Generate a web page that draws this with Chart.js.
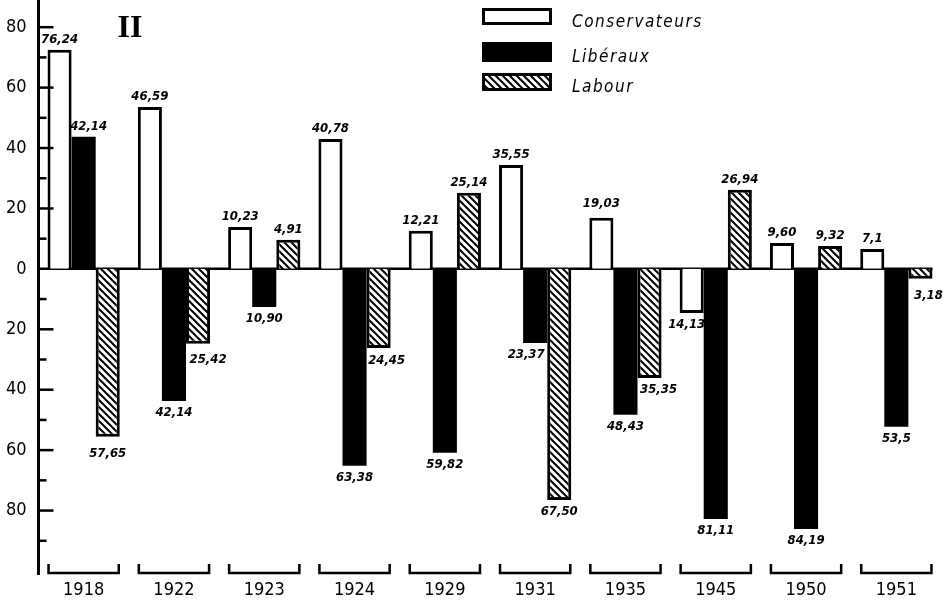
<!DOCTYPE html>
<html><head><meta charset="utf-8">
<script src="https://cdn.jsdelivr.net/npm/chart.js@4/dist/chart.umd.min.js"></script>
<style>html,body{margin:0;padding:0;background:#fff}#wrap{width:948px;height:602px;position:relative}</style>
</head><body><div id="wrap"><canvas id="c" width="948" height="602"></canvas></div>
<script>
const years = ['1918','1922','1923','1924','1929','1931','1935','1945','1950','1951'];
const seriesNames = ['Conservateurs','Libéraux','Labour'];
const conservateurs = [72.5, 53.6, 13.9, 43.0, 12.6, 34.4, 16.9, -14.6, 8.6, 6.6];
const liberaux = [43.7, -43.7, -12.6, -65.2, -60.9, -24.5, -48.3, -82.8, -86.1, -52.3];
const labour = [-55.6, -24.8, 9.6, -26.2, 25.2, -76.5, -36.1, 26.2, 7.6, -3.3];
const labelsCons = ['76,24','46,59','10,23','40,78','12,21','35,55','19,03','14,13','9,60','7,1'];
const labelsLib = ['42,14','42,14','10,90','63,38','59,82','23,37','48,43','81,11','84,19','53,5'];
const labelsLab = ['57,65','25,42','4,91','24,45','25,14','67,50','35,35','26,94','9,32','3,18'];
const yTickValues = [-80,-60,-40,-20,0,20,40,60,80];
const yMinorValues = [-90,-70,-50,-30,-10,10,30,50,70];
const panelTitle = 'II';

// hatch pattern
function makeHatch(){
  const s = 7, c = document.createElement('canvas'); c.width = s; c.height = s;
  const g = c.getContext('2d');
  g.fillStyle = '#fff'; g.fillRect(0,0,s,s);
  g.strokeStyle = '#000'; g.lineWidth = 2;
  g.beginPath();
  g.moveTo(-1,-1); g.lineTo(s+1,s+1);
  g.moveTo(-1,s-1); g.lineTo(1,s+1);
  g.moveTo(s-1,-1); g.lineTo(s+1,1);
  g.stroke();
  return document.getElementById('c').getContext('2d').createPattern(c,'repeat');
}
const hatch = makeHatch();
const allLabels = [labelsCons, labelsLib, labelsLab];
const labelNudges = {'1-0':[5,0],'2-0':[0,5],'2-1':[10,4],'2-3':[8,1],'1-5':[-9,0],'2-6':[9,0],'2-9':[8,5],'0-6':[0,-4],'0-7':[-5,0]};

const decor = {
  id:'decor',
  beforeDatasetsDraw(chart){
    const ctx = chart.ctx, ca = chart.chartArea, y = chart.scales.y;
    const py = y.getPixelForValue(0);
    ctx.save();
    ctx.strokeStyle = '#000'; ctx.lineWidth = 2.5;
    ctx.beginPath(); ctx.moveTo(ca.left, py); ctx.lineTo(ca.right - 9, py); ctx.stroke();
    ctx.restore();
  },
  afterDatasetsDraw(chart){
    const ctx = chart.ctx, ca = chart.chartArea, y = chart.scales.y;
    ctx.save();
    ctx.strokeStyle = '#000'; ctx.lineWidth = 2.5; ctx.lineCap = 'butt';
    // y ticks inside
    yTickValues.forEach(v=>{ if(v===0) return; const py=y.getPixelForValue(v); ctx.beginPath(); ctx.moveTo(ca.left,py); ctx.lineTo(ca.left+15,py); ctx.stroke(); });
    yMinorValues.forEach(v=>{ const py=y.getPixelForValue(v); ctx.beginPath(); ctx.moveTo(ca.left,py); ctx.lineTo(ca.left+8,py); ctx.stroke(); });
    // brackets
    const m0 = chart.getDatasetMeta(0), m2 = chart.getDatasetMeta(2);
    const yb = ca.bottom - 1;
    for(let i=0;i<years.length;i++){
      const a=m0.data[i], b=m2.data[i];
      const l=a.x-a.width/2+1, r=b.x+b.width/2-1;
      ctx.beginPath(); ctx.moveTo(l,yb-9); ctx.lineTo(l,yb); ctx.lineTo(r,yb); ctx.lineTo(r,yb-9); ctx.stroke();
    }
    // value labels
    ctx.fillStyle = '#000';
    ctx.font = 'italic bold 13px "DejaVu Sans Condensed"';
    ctx.textAlign = 'center'; ctx.textBaseline = 'middle';
    chart.data.datasets.forEach((ds,di)=>{
      const meta = chart.getDatasetMeta(di);
      meta.data.forEach((el,i)=>{
        const v = ds.data[i];
        const n = labelNudges[di+'-'+i] || [0,0];
        const py = v>=0 ? el.y-10 : el.y+12;
        ctx.fillText(allLabels[di][i], el.x+n[0], py+n[1]);
      });
    });
    // panel title
    ctx.font = 'bold 32px "Liberation Serif"';
    ctx.fillText(panelTitle, 130, 29);
    // legend
    const boxes = [[8,17],[42,20],[73,18]];
    chart.data.datasets.forEach((ds,di)=>{
      const [by,bh] = boxes[di];
      ctx.fillStyle = ds.backgroundColor;
      ctx.fillRect(482,by,70,bh);
      ctx.lineWidth = 3; ctx.strokeStyle = '#000';
      ctx.strokeRect(483.5,by+1.5,67,bh-3);
      ctx.fillStyle = '#000';
      ctx.font = 'italic 17px "DejaVu Sans Condensed"';
      ctx.textAlign = 'left';
      try{ ctx.letterSpacing = '1.5px'; }catch(e){}
      ctx.fillText(ds.label, 572, by+bh/2+6);
      try{ ctx.letterSpacing = '0px'; }catch(e){}
    });
    ctx.restore();
  }
};

new Chart(document.getElementById('c'), {
  type:'bar',
  data:{
    labels: years,
    datasets:[
      {label:seriesNames[0], data:conservateurs, backgroundColor:'#fff', borderColor:'#000', borderWidth:3},
      {label:seriesNames[1], data:liberaux, backgroundColor:'#000', borderColor:'#000', borderWidth:0},
      {label:seriesNames[2], data:labour, backgroundColor:hatch, borderColor:'#000', borderWidth:3}
    ]
  },
  options:{
    responsive:false, animation:false,
    layout:{padding:{left:0,right:6.5,top:0,bottom:0}},
    plugins:{legend:{display:false}, tooltip:{enabled:false}},
    datasets:{bar:{categoryPercentage:0.8, barPercentage:1.0}},
    scales:{
      x:{
        grid:{display:false, drawTicks:false}, border:{display:false},
        afterFit(s){ s.height = 28; s.paddingLeft = 0; s.paddingRight = 0; },
        ticks:{padding:6, color:'#000', maxRotation:0, autoSkip:false, font:{family:'DejaVu Sans Condensed', size:18}}
      },
      y:{
        min:-101, max:89,
        afterFit(s){ s.width = 38.5; s.paddingTop = 0; s.paddingBottom = 0; },
        afterBuildTicks(s){ s.ticks = yTickValues.map(v=>({value:v})); },
        grid:{drawTicks:false, display:false},
        border:{display:true, color:'#000', width:3},
        ticks:{padding:12, color:'#000', font:{family:'DejaVu Sans Condensed', size:18}, callback:v=>String(Math.abs(v))}
      }
    }
  },
  plugins:[decor]
});
</script></body></html>
